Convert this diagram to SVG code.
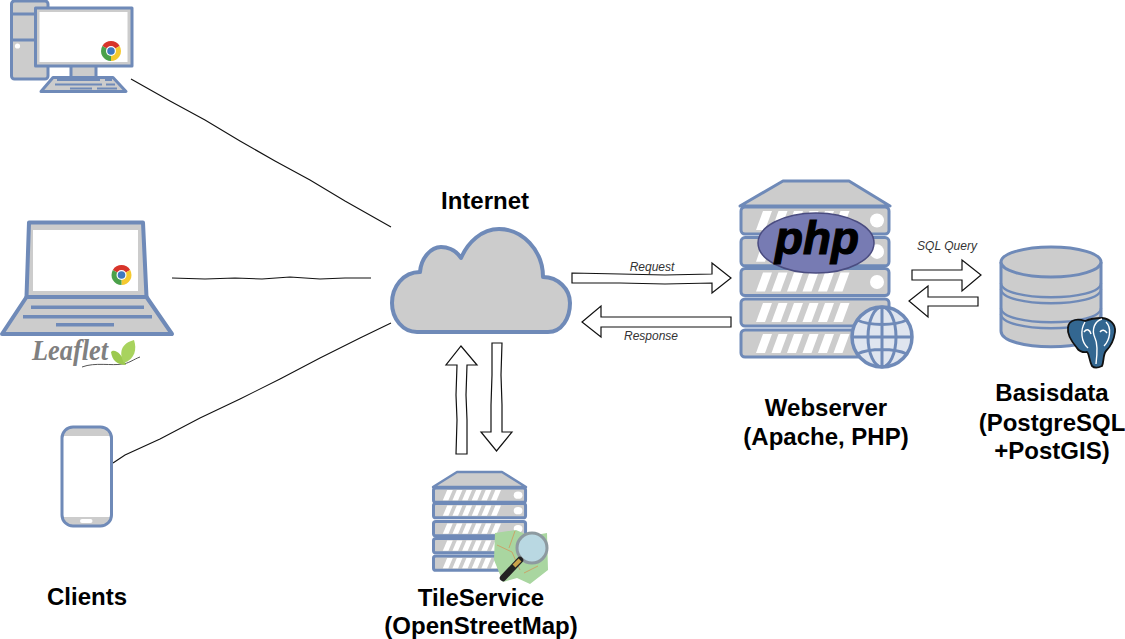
<svg xmlns="http://www.w3.org/2000/svg" width="1125" height="639" viewBox="0 0 1125 639">
<style>
.s{fill:#ccc;stroke:#6f8ab8;stroke-width:3;stroke-linejoin:round}
.sn{fill:#ccc;stroke:#6f8ab8;stroke-width:3;stroke-linejoin:round;vector-effect:non-scaling-stroke}
.w{fill:#fff}
.k{fill:#6f8ab8}
.t{font-family:"Liberation Sans",Arial,sans-serif;font-weight:bold;font-size:24px;fill:#000;text-anchor:middle}
.i{font-family:"Liberation Sans",Arial,sans-serif;font-style:italic;font-size:12px;fill:#333;text-anchor:middle}
.a{fill:#fff;stroke:#111;stroke-width:1.2;stroke-linejoin:miter}
.l{fill:none;stroke:#111;stroke-width:1.100}
.g{fill:none;stroke:#6f8ab8;stroke-width:3}
.db{fill:#ccc;stroke:#6f8ab8;stroke-width:3}
</style>
<defs>
<g id="stripes" class="w">
<path d="M15,23 L22,4 h9 L24,23 z"/><path d="M30.500,23 L37.500,4 h9 L39.500,23 z"/><path d="M46,23 L53,4 h9 L55,23 z"/><path d="M61.500,23 L68.500,4 h9 L70.500,23 z"/><path d="M77,23 L84,4 h9 L86,23 z"/><path d="M92.500,23 L99.500,4 h9 L101.500,23 z"/>
</g>
<g id="row">
<rect class="sn" x="0" y="0" width="148" height="27" rx="4"/>
<use href="#stripes"/>
<circle class="w" cx="136" cy="13.500" r="7"/>
</g>
<g id="chrome">
<circle r="10" fill="#fff"/>
<path d="M0,0 L-8.660,-5 A10,10 0 0 1 8.660,-5 z" fill="#d8342a"/>
<path d="M0,0 L8.660,-5 A10,10 0 0 1 0,10 z" fill="#f5c92f"/>
<path d="M0,0 L0,10 A10,10 0 0 1 -8.660,-5 z" fill="#4ba14a"/>
<circle r="5" fill="#fff"/>
<circle r="3.800" fill="#3f78c0"/>
</g>
</defs>

<g id="connectors">
<polyline class="l" points="131,79 170,101 205,120 240,141 275,161 310,180 345,201 391,227"/>
<polyline class="l" points="172,278 205,279 235,278 262,279 290,277 320,279 345,278 371,278"/>
<polyline class="l" points="113,463 125,455 160,439 200,418 240,399 280,379 320,358 360,338 391,323"/>
<path class="a" d="M572,273 L620,274 L665,275 L712,274 L712,263 L731,278 L712,293 L712,283 L665,284 L620,283 L572,283 z"/>
<path class="a" d="M731,317 L601,317 L601,306 L582,322 L601,337 L601,327 L731,327 z"/>
<path class="a" d="M456,454 L457,420 L456,395 L457,365 L446,365 L461,346 L477,365 L467,365 L466,395 L467,420 L467,454 z"/>
<path class="a" d="M492,343 L502,343 L501,375 L502,405 L502,432 L512,432 L496.500,451 L481,432 L491,432 L491,405 L492,375 z"/>
<path class="a" d="M912,270 L962,270 L962,260 L981,275 L962,291 L962,280 L912,280 z"/>
<path class="a" d="M978,297 L928,297 L928,286 L909,301 L928,317 L928,306 L978,306 z"/>
<text class="i" x="652" y="271">Request</text>
<text class="i" x="651" y="340">Response</text>
<text class="i" x="947" y="250">SQL Query</text>
</g>

<g id="desktop">
<rect class="s" x="11.500" y="1" width="36.500" height="78" rx="3"/>
<path class="g" d="M11.500,14 H40 M11.500,40 H40"/>
<circle class="w" cx="17.500" cy="46" r="2.600"/>
<rect class="s" x="71" y="64" width="25" height="14"/>
<rect class="s" x="35.500" y="8" width="96.500" height="58"/>
<rect class="w" x="39.500" y="12" width="88" height="50"/>
<path class="s" d="M53,77.500 H113 L126,91.500 H41 z"/>
<path class="g" style="stroke-width:2" d="M57,80 H100 M105,80 H112 M55,84.500 H102 M106,84.500 H115 M70,88.500 H92 M97,88.500 H117"/>
<use href="#chrome" transform="translate(111,51)"/>
</g>

<g id="laptop">
<path class="s" d="M29,222.500 H143 L146.500,297 H26.500 z" style="stroke-width:4"/>
<rect class="w" x="33" y="230" width="105" height="61"/>
<path class="s" d="M26.500,297 H146.500 L172,334 H2 z" style="stroke-width:4"/>
<path class="k" d="M31,305.500 h113 v3.500 h-113 z M23,315 h129 v3.500 h-129 z M56,323 h58 v3.500 h-58 z"/>
<use href="#chrome" transform="translate(121.500,275)"/>
<text x="32" y="360" font-family="'Liberation Serif',serif" font-style="italic" font-weight="bold" font-size="30" fill="#808080" textLength="76" lengthAdjust="spacingAndGlyphs">Leaflet</text>
<path d="M82,367 C95,362 112,366 122,364 C128,364 134,359 140,357" fill="none" stroke="#555" stroke-width="1"/>
<path d="M111,352 C114,348 122,353 126,365 C117,365 112,360 111,352 z" fill="#9cc94f"/>
<path d="M124,363 C118,352 122,343 134,340 C137,349 135,359 124,363 z" fill="#a8d35e"/>
</g>

<g id="phone">
<rect x="62" y="427" width="49.500" height="99" rx="11" fill="#ccc"/>
<rect class="w" x="63" y="436" width="47.500" height="81"/>
<rect x="62" y="427" width="49.500" height="99" rx="11" fill="none" stroke="#6f8ab8" stroke-width="3"/>
<rect class="w" x="80" y="519" width="12.500" height="4" rx="2"/>
</g>

<g id="cloud">
<path class="s" style="stroke-width:4" d="M417,332 H548 C562,332 570,318 570,303 C570,289 558,277 543,277 C543,250 522,229 499,229 C482,229 468,242 461,258 C455,249 446,247 441,247 C431,247 421,258 420,272 C403,272 392,287 392,303 C392,319 403,332 417,332 z"/>
</g>

<g id="webserver">
<path class="s" d="M783,181 H849 L890,206 H740 z"/>
<use href="#row" transform="translate(741,207)"/>
<use href="#row" transform="translate(741,237.500) scale(1,1.050)"/>
<use href="#row" transform="translate(741,268.500)"/>
<use href="#row" transform="translate(741,299)"/>
<use href="#row" transform="translate(741,330)"/>
<circle fill="#ccc" cx="878" cy="312" r="8"/>
<circle cx="882" cy="337" r="30" fill="#dfe5ef" stroke="#6f8ab8" stroke-width="3.500"/>
<path class="g" d="M882,307 V367 M852,337 H912 M857,320 C870,326 894,326 907,320 M857,354 C870,348 894,348 907,354"/>
<ellipse class="g" cx="882" cy="337" rx="14" ry="30"/>
<ellipse cx="816" cy="243" rx="58" ry="30" fill="#777bb3" stroke="#4a4c80" stroke-width="1.500"/>
<text x="817" y="254" font-family="'Liberation Sans',Arial,sans-serif" font-weight="bold" font-style="italic" font-size="46" text-anchor="middle" fill="#000" stroke="#000" stroke-width="1.200" textLength="84" lengthAdjust="spacingAndGlyphs">php</text>
</g>

<g id="database">
<path class="db" d="M1001,262 V331 C1001,352 1101,352 1101,331 V262"/>
<path class="g" d="M1001,283 C1001,302 1101,302 1101,283 M1001,289 C1001,308 1101,308 1101,289 M1001,308 C1001,327 1101,327 1101,308 M1001,314 C1001,333 1101,333 1101,314" style="stroke-width:2.400"/>
<ellipse class="db" cx="1051" cy="262" rx="50" ry="15"/>
<path d="M1085,321 C1092,318 1097,318 1102,318 C1110,319 1116,324 1115,332 C1114,340 1112,345 1106,351 C1103,354 1104,362 1102,366 C1098,368 1094,368 1092,366 C1089,360 1089,353 1087,352 C1082,353 1078,350 1077,348 C1072,342 1067,334 1068,328 C1068,323 1071,321 1075,320 C1079,319 1082,320 1085,321 z" fill="#336791" stroke="#111" stroke-width="1.800"/>
<path d="M1085,322 C1080,330 1081,342 1088,348 M1102,319 C1095,321 1091,329 1095,338 C1098,344 1097,356 1096,364 M1106,322 C1112,328 1110,340 1104,346 M1084,332 C1087,328 1090,330 1091,334 M1100,332 C1102,329 1105,330 1107,333" fill="none" stroke="#fff" stroke-width="1.400"/>
</g>

<g id="tileservice">
<path class="s" style="stroke-width:2.400" d="M457,472 H502 L526,487 H433 z"/>
<use href="#row" transform="translate(433.500,488) scale(.622,.53)"/>
<use href="#row" transform="translate(433.500,503.500) scale(.622,.53)"/>
<use href="#row" transform="translate(433.500,521.500) scale(.622,.53)"/>
<use href="#row" transform="translate(433.500,538.500) scale(.622,.53)"/>
<use href="#row" transform="translate(433.500,556) scale(.622,.53)"/>
<path d="M495,533 L516,530 L530,536 L547,533 L548,570 L530,584 L517,578 L503,582 L494,560 z" fill="#a9d6a0"/>
<path d="M497,545 L512,552 L520,570 M515,531 L509,548 M524,573 L538,566" fill="none" stroke="#c9a46a" stroke-width="1"/>
<circle cx="532" cy="548" r="15" fill="#b9d8e2" stroke="#8d9aa0" stroke-width="3"/>
<path d="M520,560 L503,578" stroke="#222" stroke-width="6.500" stroke-linecap="round"/>
<path d="M520,560 L514,566" stroke="#c9a24a" stroke-width="4"/>
</g>

<g id="labels">
<text class="t" x="485" y="209">Internet</text>
<text class="t" x="826" y="416">Webserver</text>
<text class="t" x="826" y="445">(Apache, PHP)</text>
<text class="t" x="1052" y="401">Basisdata</text>
<text class="t" x="1052" y="431">(PostgreSQL</text>
<text class="t" x="1052" y="459">+PostGIS)</text>
<text class="t" x="481" y="606">TileService</text>
<text class="t" x="481" y="634">(OpenStreetMap)</text>
<text class="t" x="87" y="605">Clients</text>
</g>
</svg>
